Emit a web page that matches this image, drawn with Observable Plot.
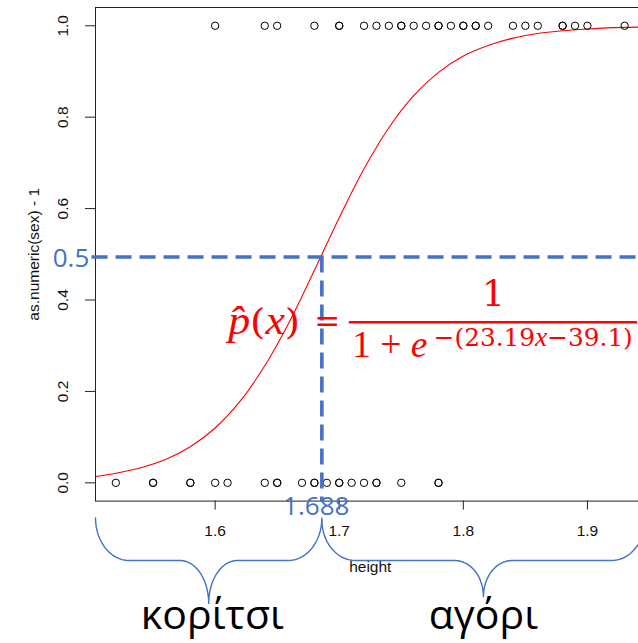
<!DOCTYPE html>
<html>
<head>
<meta charset="utf-8">
<script src="https://cdn.jsdelivr.net/npm/d3@7"></script>
<script src="https://cdn.jsdelivr.net/npm/@observablehq/plot@0.6"></script>
<style>
html, body { margin: 0; padding: 0; background: #fff; overflow: hidden; }
#wrap { width: 638px; height: 643px; overflow: hidden; position: relative; background: #fff; }
</style>
</head>
<body>
<div id="wrap"></div>
<script>
// ---- data ----
const girlHeights = [1.52, 1.55, 1.55, 1.58, 1.58, 1.60, 1.61, 1.64, 1.65, 1.65, 1.67, 1.68, 1.68, 1.69, 1.70, 1.70, 1.71, 1.72, 1.73, 1.73, 1.75, 1.78, 1.78];
const boyHeights = [1.60, 1.64, 1.65, 1.68, 1.70, 1.70, 1.72, 1.73, 1.74, 1.75, 1.75, 1.76, 1.77, 1.78, 1.78, 1.79, 1.80, 1.80, 1.81, 1.81, 1.82, 1.84, 1.85, 1.86, 1.88, 1.88, 1.89, 1.90, 1.93];
const curveHeight = [1.504, 1.52, 1.54, 1.56, 1.58, 1.60, 1.62, 1.64, 1.66, 1.68, 1.70, 1.72, 1.74, 1.76, 1.78, 1.80, 1.82, 1.84, 1.86, 1.88, 1.90, 1.92, 1.94, 1.946];
const curveProb   = [0.014, 0.021, 0.033, 0.051, 0.079, 0.120, 0.178, 0.256, 0.353, 0.465, 0.580, 0.687, 0.777, 0.847, 0.898, 0.934, 0.957, 0.973, 0.983, 0.989, 0.993, 0.996, 0.997, 0.998];
const xTicks = [1.6, 1.7, 1.8, 1.9];
const yTicks = [0, 0.2, 0.4, 0.6, 0.8, 1.0];
const cutHeight = 1.686;
const cutHeightLabel = "1.688";
const cutProb = 0.494;
const cutProbLabel = "0.5";
const groupLabels = ["κορίτσι", "αγόρι"];
const xTitle = "height";
const yTitle = "as.numeric(sex) - 1";
const eqLhs = "p̂(x)";
const eqNum = "1";
const eqDen = "1 + e";
const eqExp = "\u2212(23.19x\u221239.1)";

// ---- tables built from the arrays ----
const obs = [
  ...girlHeights.map(h => ({height: h, y: 0})),
  ...boyHeights.map(h => ({height: h, y: 1}))
];
const curve = curveHeight.map((h, i) => ({height: h, p: curveProb[i]}));

const xDomain = [1.5036, 1.9464];
const yDomain = [-0.04, 1.04];

function brace(x0, x1, yTop, yMid, yBot, rEnd, rMid, group) {
  const xc = (x0 + x1) / 2, pts = [];
  const ang = d3.range(0, 91, 6).map(a => a * Math.PI / 180);
  ang.forEach(t => pts.push({x: x0 + rEnd * (1 - Math.cos(t)), y: yMid + (yTop - yMid) * (1 - Math.sin(t)), g: group}));
  ang.forEach(t => pts.push({x: xc - rMid + rMid * Math.sin(t), y: yBot + (yMid - yBot) * Math.cos(t), g: group}));
  ang.forEach(t => pts.push({x: xc + rMid - rMid * Math.cos(t), y: yBot + (yMid - yBot) * Math.sin(t), g: group}));
  ang.forEach(t => pts.push({x: x1 - rEnd + rEnd * Math.sin(t), y: yTop - (yTop - yMid) * Math.cos(t), g: group}));
  return pts;
}
const braces = [
  ...brace(xDomain[0], cutHeight, -0.077, -0.170, -0.264, 0.027, 0.023, "girl"),
  ...brace(cutHeight, xDomain[1], -0.081, -0.170, -0.249, 0.027, 0.023, "boy")
];
const groupMid = [(xDomain[0] + cutHeight) / 2 + 0.003, (cutHeight + xDomain[1]) / 2];

const blue = "#4472C4";
const red = "#FF0000";
const mathFont = "DejaVu Serif, serif";
const italicFont = "Liberation Serif, serif";

const chart = Plot.plot({
  width: 645,
  height: 643,
  marginLeft: 95,
  marginRight: 0.5,
  marginTop: 7,
  marginBottom: 142.4,
  x: {domain: xDomain, label: null},
  y: {domain: yDomain, label: null},
  style: {maxWidth: "none", background: "#fff", fontFamily: "Liberation Sans, Arial, sans-serif"},
  marks: [
    Plot.frame({stroke: "#222"}),
    Plot.axisX({ticks: xTicks, tickSize: 9, tickPadding: 15, fontSize: 15.5, label: null, stroke: "#222", fill: "#111", tickFormat: d => d.toFixed(1)}),
    Plot.axisY({ticks: yTicks, tickSize: 10, tickFormat: () => "", label: null, stroke: "#222"}),
    Plot.text(yTicks, {y: d => d, text: d => d.toFixed(1), frameAnchor: "left", textAnchor: "middle", dx: -32, rotate: -90, fontSize: 15.5, fill: "#111"}),
    Plot.text([yTitle], {text: d => d, frameAnchor: "left", textAnchor: "middle", dx: -61, rotate: -90, fontSize: 15.5, fill: "#111"}),
    Plot.text([xTitle], {text: d => d, frameAnchor: "bottom", textAnchor: "middle", dy: 70.4, fontSize: 15.5, fill: "#111"}),
    Plot.line(curve, {x: "height", y: "p", stroke: red, strokeWidth: 1.1, curve: "catmull-rom"}),
    Plot.dot(obs, {x: "height", y: "y", r: 3.7, stroke: "#000", strokeWidth: 1, fill: "none"}),
    // dashed guides
    Plot.ruleY([cutProb], {x1: 1.5008, x2: 1.96, stroke: blue, strokeWidth: 3.6, strokeDasharray: "16,8"}),
    Plot.ruleX([cutHeight], {y1: cutProb, y2: -0.043, stroke: blue, strokeWidth: 3.6, strokeDasharray: "16,8"}),
    Plot.text([cutProbLabel], {text: d => d, frameAnchor: "left", textAnchor: "middle", y: cutProb, dx: -24.5, dy: 2, fontSize: 26, fill: blue, fontFamily: "Open Sans, sans-serif"}),
    // braces and group labels
    Plot.line(braces, {x: "x", y: "y", z: "g", stroke: blue, strokeWidth: 1.4}),
    Plot.text([cutHeightLabel], {text: d => d, x: cutHeight, frameAnchor: "bottom", textAnchor: "middle", dx: -5.6, dy: 14, fontSize: 26, fill: blue, fontFamily: "Open Sans, sans-serif"}),
    Plot.text(groupLabels, {text: d => d, x: (d, i) => groupMid[i], frameAnchor: "bottom", textAnchor: "middle", dy: 127.4, fontSize: 41, fill: "#000", fontFamily: "Open Sans, sans-serif"}),
    // equation
    Plot.text([eqLhs], {text: d => d, x: 1.6105, y: 0.3519, textAnchor: "start", fontSize: 36, fill: red, fontFamily: mathFont}),
    Plot.text(["="], {text: d => d, x: 1.6903, y: 0.3519, fontSize: 31, fill: red, fontFamily: mathFont}),
    Plot.ruleY([0.3514], {x1: 1.7081, x2: 1.9403, stroke: red, strokeWidth: 2.5}),
    Plot.text([eqNum], {text: d => d, x: 1.8242, y: 0.4131, fontSize: 36, fill: red, fontFamily: mathFont}),
    Plot.text([eqDen], {text: d => d, x: 1.7105, y: 0.3015, textAnchor: "start", fontSize: 37, fill: red, fontFamily: italicFont}),
    Plot.text([eqExp], {text: d => d, x: 1.7762, y: 0.3158, textAnchor: "start", fontSize: 25, fill: red, fontFamily: mathFont})
  ]
});

function styleText(content, parts, len, scale) {
  const t = d3.select(chart).selectAll("text").filter(function() { return this.textContent === content; });
  t.text(null);
  parts.forEach(([s, it]) => {
    const ts = t.append("tspan").text(s);
    if (it) ts.attr("font-style", "italic").attr("font-family", italicFont).attr("font-size", scale);
  });
  if (len) t.attr("textLength", len).attr("lengthAdjust", "spacingAndGlyphs");
}
styleText(eqLhs, [["p̂", true], ["(", false], ["x", true], [")", false]], 72, "1.12em");
styleText(eqDen, [["1 + ", false], ["e", true]], 75, "1em");
styleText(eqExp, [["\u2212(23.19", false], ["x", true], ["\u221239.1)", false]], 199, "1.12em");

document.getElementById("wrap").appendChild(chart);
</script>
</body>
</html>
